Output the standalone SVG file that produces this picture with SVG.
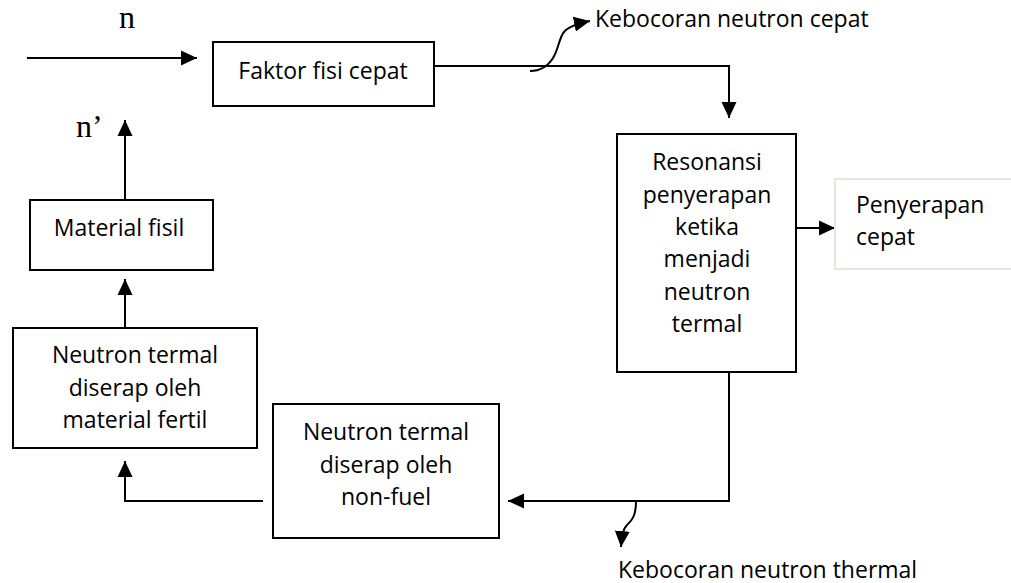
<svg xmlns="http://www.w3.org/2000/svg" width="1011" height="583" viewBox="0 0 1011 583">
  <style>
    .box { fill: #ffffff; stroke: #000000; stroke-width: 2; }
    .box-light { fill: #ffffff; stroke: #e9e7d8; stroke-width: 2; }
    .lbl { font-family: "Open Sans", "Liberation Sans", sans-serif; font-size: 23px; fill: #000000; }
    .mid { text-anchor: middle; }
    .sym { font-family: "Liberation Serif", "Times New Roman", serif; font-size: 32px; fill: #000000; }
    .wire { fill: none; stroke: #000000; stroke-width: 2; }
  </style>
  <defs>
    <marker id="head" markerUnits="userSpaceOnUse" markerWidth="17" markerHeight="16" refX="16" refY="8" orient="auto">
      <path d="M0,0.5 L16,8 L0,15.5 z" fill="#000000"/>
    </marker>
  </defs>

  <rect width="1011" height="583" fill="#ffffff"/>

  <!-- neutron labels -->
  <text class="sym" x="119" y="28">n</text>
  <text class="sym" x="76" y="137">n’</text>

  <!-- connectors -->
  <g id="connectors">
    <line class="wire" x1="27" y1="58" x2="197" y2="58" marker-end="url(#head)"/>
    <polyline class="wire" points="434,66 729,66 729,118" marker-end="url(#head)"/>
    <path class="wire" d="M530,71 C540,71 548,66 553,58 C559,48 559,38 564,32 C568,27 575,24 590,21" marker-end="url(#head)"/>
    <line class="wire" x1="796" y1="228" x2="835" y2="228" marker-end="url(#head)"/>
    <polyline class="wire" points="729,372 729,501 508,501" marker-end="url(#head)"/>
    <path class="wire" d="M636,501 C636,514 633,520 627,525 C623,529 622,535 621,547" marker-end="url(#head)"/>
    <polyline class="wire" points="263,501 125,501 125,461" marker-end="url(#head)"/>
    <line class="wire" x1="125" y1="328" x2="125" y2="279" marker-end="url(#head)"/>
    <line class="wire" x1="125" y1="200" x2="125" y2="120" marker-end="url(#head)"/>
  </g>

  <!-- nodes -->
  <g id="faktor-fisi-cepat">
    <rect class="box" x="213" y="42" width="221" height="64"/>
    <text class="lbl mid" x="323" y="79">Faktor fisi cepat</text>
  </g>

  <g id="resonansi">
    <rect class="box" x="617" y="134" width="179" height="238"/>
    <text class="lbl mid" x="707" y="170">Resonansi</text>
    <text class="lbl mid" x="707" y="203">penyerapan</text>
    <text class="lbl mid" x="707" y="235">ketika</text>
    <text class="lbl mid" x="707" y="267">menjadi</text>
    <text class="lbl mid" x="707" y="300">neutron</text>
    <text class="lbl mid" x="707" y="332">termal</text>
  </g>

  <g id="penyerapan-cepat">
    <rect class="box-light" x="835" y="179" width="190" height="90"/>
    <text class="lbl" x="856" y="213">Penyerapan</text>
    <text class="lbl" x="856" y="245">cepat</text>
  </g>

  <g id="material-fisil">
    <rect class="box" x="30" y="200" width="183" height="70"/>
    <text class="lbl mid" x="119" y="236">Material fisil</text>
  </g>

  <g id="material-fertil">
    <rect class="box" x="13" y="328" width="244" height="120"/>
    <text class="lbl mid" x="135" y="363">Neutron termal</text>
    <text class="lbl mid" x="135" y="396">diserap oleh</text>
    <text class="lbl mid" x="135" y="428">material fertil</text>
  </g>

  <g id="non-fuel">
    <rect class="box" x="273" y="404" width="226" height="134"/>
    <text class="lbl mid" x="386" y="440">Neutron termal</text>
    <text class="lbl mid" x="386" y="473">diserap oleh</text>
    <text class="lbl mid" x="386" y="505">non-fuel</text>
  </g>

  <!-- leakage labels -->
  <g id="leak-fast">
    <text class="lbl" x="595" y="27">Kebocoran neutron cepat</text>
  </g>
  <g id="leak-thermal">
    <text class="lbl" x="618" y="578">Kebocoran neutron thermal</text>
  </g>
</svg>
